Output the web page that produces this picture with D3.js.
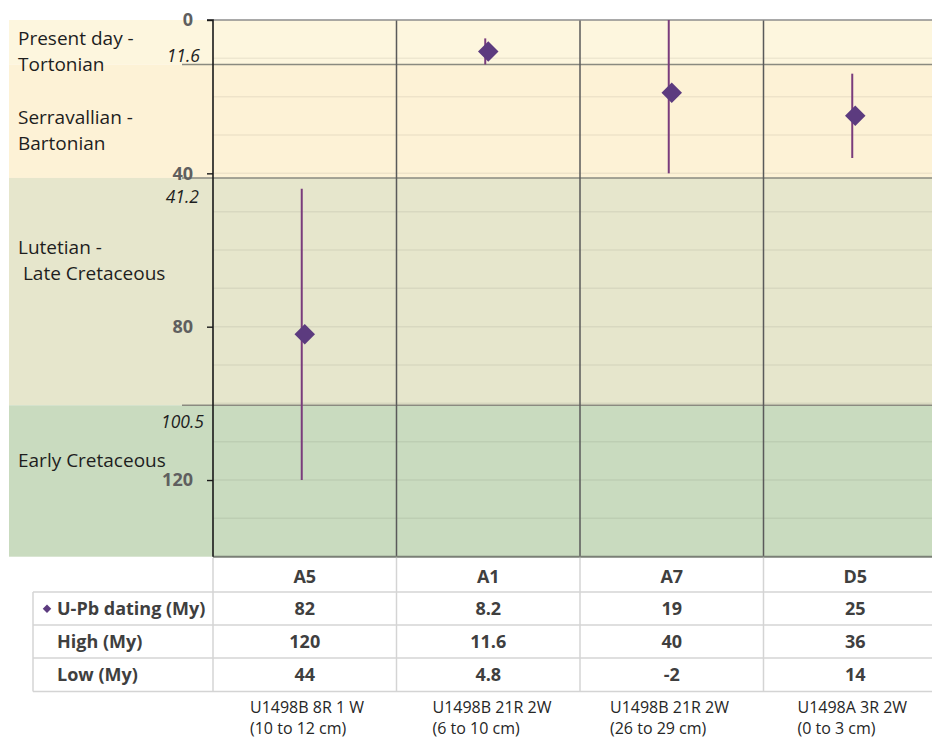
<!DOCTYPE html>
<html>
<head>
<meta charset="utf-8">
<script src="https://cdn.jsdelivr.net/npm/d3@7/dist/d3.min.js"></script>
<style>
  html, body { margin: 0; padding: 0; background: #fff; }
  svg { display: block; }
  text { font-family: "Open Sans", "Noto Sans", sans-serif; }
</style>
</head>
<body>
<svg id="chart" width="932" height="738"></svg>
<script>
// Samples and their U-Pb ages (My)
const categories = ["A5", "A1", "A7", "D5"];
const upbAges = [82, 8.2, 19, 25];
const highAges = [120, 11.6, 40, 36];
const lowAges = [44, 4.8, -2, 14];
const sampleIds = ["U1498B 8R 1 W", "U1498B 21R 2W", "U1498B 21R 2W", "U1498A 3R 2W"];
const sampleDepths = ["(10 to 12 cm)", "(6 to 10 cm)", "(26 to 29 cm)", "(0 to 3 cm)"];

// Geological intervals (My)
const periodNames = [["Present day -", "Tortonian"], ["Serravallian -", "Bartonian"], ["Lutetian -", " Late Cretaceous"], ["Early Cretaceous"]];
const periodBounds = [0, 11.6, 41.2, 100.5, 140];
const boundaryLabels = ["11.6", "41.2", "100.5"];
const yTicks = [0, 40, 80, 120];
const gridStep = [0, 10, 20, 30, 40, 50, 60, 70, 80, 90, 100, 110, 120, 130];
const rowLabels = ["U-Pb dating (My)", "High (My)", "Low (My)"];

const svg = d3.select("#chart");
const plotLeft = 213, plotRight = 932, plotTop = 20, plotBottom = 556.7;

const y = d3.scaleLinear().domain([0, 140]).range([plotTop, plotBottom]);
const x = d3.scaleBand().domain(categories).range([plotLeft, plotLeft + 4 * 183.5]);
const clampY = v => y(Math.max(0, Math.min(140, v)));

const bandColors = ["#fdf6de", "#fdf2d6", "#e6e6cc", "#c9dbbf"];

// interval backgrounds
const bands = svg.append("g");
bands.selectAll("rect")
  .data(d3.range(periodNames.length))
  .join("rect")
  .attr("x", 9)
  .attr("y", i => y(periodBounds[i]))
  .attr("width", plotRight - 9)
  .attr("height", i => y(periodBounds[i + 1]) - y(periodBounds[i]))
  .attr("fill", i => bandColors[i]);

// light horizontal gridlines
svg.append("g").selectAll("line")
  .data(gridStep.filter(v => v > 0))
  .join("line")
  .attr("x1", plotLeft).attr("x2", plotRight)
  .attr("y1", d => y(d)).attr("y2", d => y(d))
  .attr("stroke", "#000").attr("stroke-opacity", 0.06).attr("stroke-width", 1.5);

// interval boundaries
svg.append("g").selectAll("line")
  .data(periodBounds.slice(1, -1))
  .join("line")
  .attr("x1", 182).attr("x2", plotRight)
  .attr("y1", d => y(d)).attr("y2", d => y(d))
  .attr("stroke", "#8a8a80").attr("stroke-width", 1.6);

// category separators
svg.append("g").selectAll("line")
  .data(categories.slice(1))
  .join("line")
  .attr("x1", d => x(d)).attr("x2", d => x(d))
  .attr("y1", plotTop).attr("y2", plotBottom)
  .attr("stroke", "#5a5a5a").attr("stroke-width", 1.5);

// frame: top and bottom
svg.append("line").attr("x1", plotLeft).attr("x2", plotRight).attr("y1", plotTop).attr("y2", plotTop)
  .attr("stroke", "#8c8c8c").attr("stroke-width", 1.5);
svg.append("line").attr("x1", plotLeft).attr("x2", plotRight).attr("y1", plotBottom).attr("y2", plotBottom)
  .attr("stroke", "#7a7f76").attr("stroke-width", 2);

// y axis
const yAxis = d3.axisLeft(y).tickValues(yTicks).tickSize(6).tickPadding(14).tickFormat(d3.format("d"));
const ya = svg.append("g").attr("transform", `translate(${plotLeft},0)`).call(yAxis);
ya.select(".domain").attr("stroke", "#1a1a1a").attr("stroke-width", 1.6).attr("d", `M-6,${plotTop}H0V${plotBottom}`);
ya.selectAll(".tick line").attr("stroke", "#1a1a1a").attr("stroke-width", 1.4);
ya.selectAll(".tick text")
  .attr("fill", "#5f5f5f")
  .style("font-family", "'Open Sans', sans-serif")
  .style("font-size", "18px").style("font-weight", "700");

// boundary value labels
const bLabelOffsets = [-9, 19, 17];
const bLabelRight = [200, 199, 204];
svg.append("g").selectAll("text")
  .data(boundaryLabels)
  .join("text")
  .attr("x", (d, i) => bLabelRight[i])
  .attr("y", (d, i) => y(periodBounds[i + 1]) + bLabelOffsets[i])
  .attr("dy", "0.35em")
  .attr("text-anchor", "end")
  .attr("fill", "#1e1e1e")
  .style("font-size", "17.5px").style("font-style", "italic")
  .text(d => d);

// interval names
const nameTop = [38, 117, 247, 460];
periodNames.forEach((lines, i) => {
  const t = svg.append("text")
    .attr("x", 18).attr("y", nameTop[i])
    .attr("fill", "#1e1e1e")
    .style("font-size", "19px");
  lines.forEach((ln, j) => {
    t.append("tspan").attr("x", 18).attr("y", nameTop[i] + j * 26).attr("dy", "0.35em")
      .style("white-space", "pre").text(ln);
  });
});

// error bars
const errColor = "#7a3c7c";
svg.append("g").selectAll("line")
  .data(categories)
  .join("line")
  .attr("x1", (d) => x(d) + x.bandwidth() / 2 - 3)
  .attr("x2", (d) => x(d) + x.bandwidth() / 2 - 3)
  .attr("y1", (d, i) => clampY(lowAges[i]))
  .attr("y2", (d, i) => clampY(highAges[i]))
  .attr("stroke", errColor).attr("stroke-width", 2);

// U-Pb age markers
const diamond = d3.symbol().type(d3.symbolSquare).size(210);
svg.append("g").selectAll("path")
  .data(categories)
  .join("path")
  .attr("d", diamond)
  .attr("transform", (d, i) => `translate(${x(d) + x.bandwidth() / 2},${y(upbAges[i])}) rotate(45)`)
  .attr("fill", "#5c3b7f");

// data table under the plot
const rowH = 33.3;
const headTop = plotBottom, headBottom = 592;
const rowTops = [592, 625, 658];
const tableBottom = 691.5;
const gridCol = "#d4d4d4";
const tbl = svg.append("g");

// horizontal rules
[headBottom, ...rowTops.slice(1), tableBottom].forEach(v => {
  tbl.append("line").attr("x1", 33).attr("x2", plotRight).attr("y1", v).attr("y2", v)
    .attr("stroke", gridCol).attr("stroke-width", 1.5);
});
// vertical rules
tbl.append("line").attr("x1", 33).attr("x2", 33).attr("y1", headBottom).attr("y2", tableBottom)
  .attr("stroke", gridCol).attr("stroke-width", 1.5);
categories.forEach(c => {
  tbl.append("line").attr("x1", x(c)).attr("x2", x(c)).attr("y1", headTop + 1).attr("y2", tableBottom)
    .attr("stroke", gridCol).attr("stroke-width", 1.5);
});

const cellText = (sel) => sel.attr("fill", "#3f3f3f").style("font-size", "18px").style("font-weight", "700");

// header row
tbl.selectAll("text.head")
  .data(categories)
  .join("text").attr("class", "head")
  .attr("x", d => x(d) + x.bandwidth() / 2)
  .attr("y", (headTop + headBottom) / 2 + 2)
  .attr("dy", "0.35em").attr("text-anchor", "middle")
  .call(cellText)
  .text(d => d);

// row labels
rowLabels.forEach((lab, r) => {
  tbl.append("text").attr("x", 57).attr("y", rowTops[r] + rowH / 2).attr("dy", "0.35em")
    .call(cellText).text(lab);
});
tbl.append("path")
  .attr("d", d3.symbol().type(d3.symbolSquare).size(36))
  .attr("transform", `translate(47,${rowTops[0] + rowH / 2}) rotate(45)`)
  .attr("fill", "#5c3b7f");

// values
const fmt = v => String(v);
[upbAges, highAges, lowAges].forEach((vals, r) => {
  tbl.selectAll(null)
    .data(categories)
    .join("text")
    .attr("x", d => x(d) + x.bandwidth() / 2)
    .attr("y", rowTops[r] + rowH / 2)
    .attr("dy", "0.35em").attr("text-anchor", "middle")
    .call(cellText)
    .text((d, i) => fmt(vals[i]));
});

// sample identifiers
const sampleOffsets = [37, 36, 30, 34];
categories.forEach((c, i) => {
  svg.append("text").attr("x", x(c) + sampleOffsets[i]).attr("y", 707).attr("dy", "0.35em")
    .attr("fill", "#262626").style("font-size", "16px").text(sampleIds[i]);
  svg.append("text").attr("x", x(c) + sampleOffsets[i]).attr("y", 728).attr("dy", "0.35em")
    .attr("fill", "#262626").style("font-size", "16px").text(sampleDepths[i]);
});
</script>
</body>
</html>
